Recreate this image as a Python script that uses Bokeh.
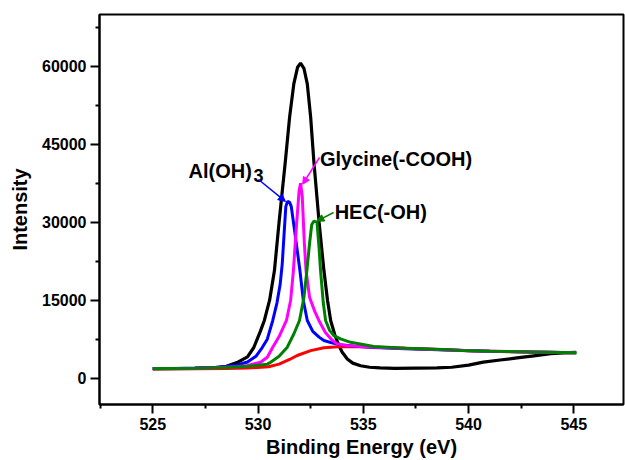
from bokeh.plotting import figure
from bokeh.models import (Range1d, FixedTicker, NumeralTickFormatter, Label,
                          Arrow, NormalHead)
from bokeh.embed import file_html
from bokeh.resources import INLINE

# ---- data ----
black_x = [525, 526, 527, 528, 528.5, 529, 529.5, 529.8, 530.1, 530.3, 530.55, 530.78,
           531.0, 531.3, 531.5, 531.7, 531.88, 532.02, 532.18, 532.34, 532.5, 532.65,
           532.9, 533.13, 533.3, 533.45, 533.65, 533.84, 534.0, 534.24, 534.5, 534.87,
           535.3, 535.8, 536.5, 537.5, 538.5, 539.2, 540.0, 540.7, 541.5, 542.3, 543.1,
           543.9, 544.5, 545.1]
black_y = [1800, 1830, 1880, 2000, 2300, 3000, 4100, 5900, 8900, 11100, 15000, 20700,
           30000, 41800, 50200, 56600, 59800, 60600, 59600, 56600, 50200, 41800,
           30000, 20700, 15000, 11100, 8300, 6300, 5000, 3700, 2900, 2400,
           2100, 2000, 1900, 1950, 2000, 2100, 2500, 3080, 3500, 3900, 4300,
           4700, 4880, 4950]

red_x = [525, 527, 528.5, 529.5, 530.5, 531.0, 531.5, 531.86, 532.5, 533.13, 533.8,
         534.7, 536, 538, 540, 542, 545.1]
red_y = [1800, 1820, 1870, 1950, 2200, 2700, 3600, 4370, 5300, 5850, 6050,
         6100, 5900, 5600, 5300, 5100, 4900]

blue_x = [525, 526, 527, 528, 528.5, 529, 529.5, 529.9, 530.2, 530.44, 530.7, 530.9,
          531.05, 531.15, 531.25, 531.32, 531.4, 531.5, 531.58, 531.75, 531.99, 532.15,
          532.34, 532.6, 532.9, 533.13, 533.5, 534.0, 534.5, 535.5, 537, 539, 541, 543,
          545.1]
blue_y = [1850, 1880, 1950, 2100, 2250, 2550, 3100, 4200, 5900, 7500, 11100, 14500,
          18000, 22000, 28500, 33000, 34000, 33800, 33000, 28000, 20700, 15000,
          11100, 9000, 7900, 7250, 6800, 6400, 6200, 5900, 5650, 5400, 5200, 5050,
          4900]

magenta_x = [525, 526, 527, 528, 529, 529.5, 530.12, 530.44, 530.7, 531.0, 531.35,
             531.55, 531.68, 531.82, 531.95, 532.02, 532.1, 532.2, 532.28, 532.45, 532.7,
             532.89, 533.2, 533.5, 533.76, 534.2, 535, 536.5, 538.5, 540.5, 542.5, 545.1]
magenta_y = [1850, 1870, 1920, 2000, 2200, 2450, 3080, 4040, 5960, 8000, 11100,
             15000, 20700, 29000, 36000, 37500, 35000, 26000, 20700, 15500, 12800,
             11100, 8800, 7400, 6600, 6300, 6050, 5800, 5500, 5250, 5100, 4900]

green_x = [525, 527, 528.5, 529.5, 530.0, 530.44, 530.6, 531.0, 531.39, 531.7, 531.97,
           532.18, 532.32, 532.45, 532.55, 532.65, 532.8, 532.9, 532.97, 533.1, 533.21,
           533.4, 533.6, 533.92, 534.4, 535.5, 537, 539.15, 539.62, 541, 543, 545.14]
green_y = [1850, 1900, 2050, 2300, 2500, 2700, 3080, 4200, 5960, 8500, 11100,
           15500, 20700, 26000, 29500, 30200, 30000, 25000, 20700, 14500, 11100,
           9200, 8200, 7570, 6900, 6100, 5750, 5460, 5330, 5200, 5050, 4880]

x_ticks = [525, 530, 535, 540, 545]
x_minor = [522.5, 527.5, 532.5, 537.5, 542.5, 547.5]
y_ticks = [0, 15000, 30000, 45000, 60000]
y_minor = [-7500, 7500, 22500, 37500, 52500, 67500]

FONT = "Liberation Sans"

p = figure(width=625, height=460, output_backend="svg", toolbar_location=None,
           x_range=Range1d(522.47, 547.36), y_range=Range1d(-5060, 69940),
           min_border_left=99, min_border_right=2, min_border_top=14,
           min_border_bottom=56)
p.background_fill_color = "white"
p.border_fill_color = "white"
p.grid.visible = False
p.outline_line_color = "black"
p.outline_line_width = 2

for ax in (p.xaxis[0], p.yaxis[0]):
    ax.axis_line_width = 2
    ax.axis_line_color = "black"
    ax.major_tick_line_width = 2
    ax.minor_tick_line_width = 2
    ax.major_tick_in = 0
    ax.minor_tick_in = 0
    ax.major_tick_out = 9
    ax.minor_tick_out = 4
    ax.major_label_text_font = FONT
    ax.major_label_text_font_style = "bold"
    ax.major_label_text_font_size = "16px"
    ax.major_label_text_color = "black"
    ax.major_label_standoff = 4
    ax.axis_label_text_font = FONT
    ax.axis_label_text_font_style = "bold"
    ax.axis_label_text_font_size = "20px"
    ax.axis_label_text_color = "black"

p.xaxis.axis_label = "Binding Energy (eV)"
p.yaxis.axis_label = "Intensity"
p.xaxis.axis_label_standoff = 3
p.yaxis.axis_label_standoff = 8

p.xaxis.ticker = FixedTicker(ticks=x_ticks, minor_ticks=x_minor)
p.yaxis.ticker = FixedTicker(ticks=y_ticks, minor_ticks=y_minor)
p.yaxis.formatter = NumeralTickFormatter(format="0")
p.xaxis.formatter = NumeralTickFormatter(format="0")

p.line(black_x, black_y, line_color="black", line_width=3.2)
p.line(red_x, red_y, line_color="#ff0000", line_width=3)
p.line(blue_x, blue_y, line_color="#0000ff", line_width=3)
p.line(magenta_x, magenta_y, line_color="#ff00ff", line_width=3)
p.line(green_x, green_y, line_color="#008000", line_width=3)

def lab(x, y, text, size="20px", **kw):
    p.add_layout(Label(x=x, y=y, text=text, text_font=FONT, text_font_style="bold",
                       text_font_size=size, text_color="black",
                       text_baseline="alphabetic", **kw))

lab(526.70, 39940, "Al(OH)")
lab(529.79, 38980, "3", size="18px")
lab(532.94, 42190, "Glycine(-COOH)")
lab(533.64, 31920, "HEC(-OH)")

for (xs, ys, xe, ye, c) in [(530.02, 38210, 531.3, 34000, "#0000ff"),
                            (532.92, 42440, 532.12, 37300, "#ff00ff"),
                            (533.59, 31860, 532.8, 30200, "#008000")]:
    p.add_layout(Arrow(x_start=xs, y_start=ys, x_end=xe, y_end=ye, line_color=c,
                       line_width=1.5,
                       end=NormalHead(size=7, fill_color=c, line_color=c)))

open("out.html", "w").write(file_html(p, INLINE))
